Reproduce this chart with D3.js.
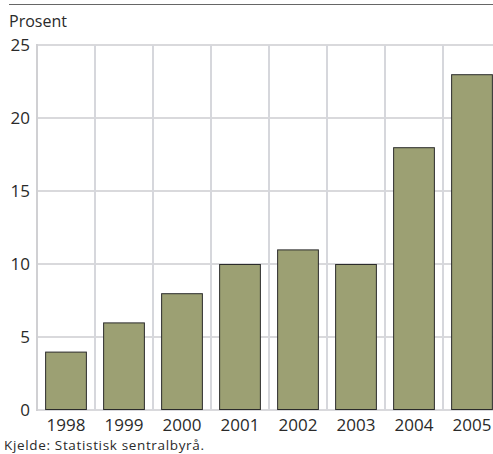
<!DOCTYPE html>
<html><head><meta charset="utf-8">
<script src="https://cdn.jsdelivr.net/npm/d3@7"></script>
<style>body{margin:0;background:#fff}svg{display:block;font-family:"Open Sans",sans-serif}</style>
</head><body><svg id="c" width="493" height="454"></svg>
<script>
const years = ["1998","1999","2000","2001","2002","2003","2004","2005"];
const values = [4,6,8,10,11,10,18,23];
const yTicks = [0,5,10,15,20,25];

const svg = d3.select("#c");
const L = 37, T = 45, B = 410, R = 501;
const x = d3.scaleBand().domain(years).range([L, R]).paddingInner(0.28).paddingOuter(0.14);
const y = d3.scaleLinear().domain([0,25]).range([B, T]);

svg.append("line").attr("x1",9).attr("x2",493).attr("y1",4.5).attr("y2",4.5).attr("stroke","#666").attr("stroke-width",1.2);
svg.append("text").attr("x",9).attr("y",27).attr("font-size",16).attr("fill","#2a2a2a").text("Prosent");

const step = x.step();
svg.append("g").selectAll("line").data(yTicks).join("line")
  .attr("x1",L).attr("x2",R).attr("y1",d=>y(d)).attr("y2",d=>y(d))
  .attr("stroke","#d9d9dc").attr("stroke-width",2);
svg.append("g").selectAll("line").data(years.slice(1)).join("line")
  .attr("x1",d=>x(d)-x.paddingInner()*step/2).attr("x2",d=>x(d)-x.paddingInner()*step/2)
  .attr("y1",T).attr("y2",B).attr("stroke","#d6d7dc").attr("stroke-width",2);
svg.append("line").attr("x1",L).attr("x2",L).attr("y1",T-1).attr("y2",B+1).attr("stroke","#d0d0d3").attr("stroke-width",2);

svg.append("g").selectAll("rect").data(values).join("rect")
  .attr("x",(d,i)=>x(years[i])+0.5).attr("y",d=>y(d)+0.5)
  .attr("width",x.bandwidth()-1).attr("height",d=>B-y(d)-1)
  .attr("fill","#9ca073").attr("stroke","#2b2b2b").attr("stroke-width",1);

svg.append("g").selectAll("text").data(yTicks).join("text")
  .attr("x",30).attr("y",d=>y(d)+6).attr("text-anchor","end").attr("font-size",17).attr("fill","#2a2a2a").text(d=>d);
svg.append("g").selectAll("text").data(years).join("text")
  .attr("x",d=>x(d)+x.bandwidth()/2).attr("y",430.5).attr("text-anchor","middle").attr("font-size",17).attr("fill","#2a2a2a").text(d=>d);
svg.append("text").attr("x",4).attr("y",450).attr("font-size",13.5).attr("textLength",200).attr("fill","#2a2a2a").text("Kjelde: Statistisk sentralbyrå.");
</script></body></html>
